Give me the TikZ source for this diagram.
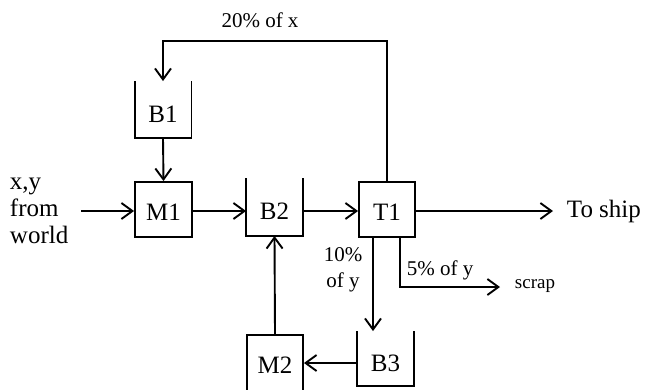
\documentclass[tikz,border=0pt]{standalone}
\usepackage{fontspec}
\setmainfont{Liberation Serif}
\usetikzlibrary{arrows.meta}
\begin{document}
\begin{tikzpicture}[x=1bp,y=-1bp,line width=1.9bp,
  mainfont/.style={font=\fontsize{25bp}{27bp}\selectfont},
  box/.style={draw,mainfont,minimum width=56bp,minimum height=55bp,inner sep=0pt,text height=21bp,text depth=0pt},
  bin/.style={mainfont,minimum width=55bp,minimum height=55bp,inner sep=0pt,text height=25bp,text depth=0pt},
  arr/.style={-{Straight Barb[length=11bp,width=16bp,line width=1.9bp]}},
  lbl/.style={font=\fontsize{21bp}{26bp}\selectfont,inner sep=0pt},
  binline/.style={line width=1.9bp}
]
\useasboundingbox (0,0) rectangle (652,389);
% nodes
\node[bin] (B1) at (163,109.5) {B1};
\node[box,minimum width=57bp] (M1) at (163.5,209.5) {M1};
\node[bin,minimum height=56bp] (B2) at (274.5,207) {B2};
\node[box] (T1) at (387,209.5) {T1};
\node[bin,minimum height=53bp] (B3) at (385.5,358.5) {B3};
\node[box,minimum height=56bp] (M2) at (275,363) {M2};
% open-top bins
\foreach \b in {B1,B2,B3}
  \draw[binline] (\b.north west) |- (\b.south east) -- (\b.north east);
% texts
\node[mainfont,align=left,anchor=west,inner sep=0pt] (src) at (9,211) {x,y\\from\\world};
\node[mainfont,anchor=west,inner sep=0pt] (ship) at (566,211) {To ship};
\node[lbl] (l20) at (260,20) {20\% of x};
\node[lbl,align=center] (l10) at (343,270) {10\%\\of y};
\node[lbl,anchor=west] (l5) at (406,270) {5\% of y};
\node[font=\fontsize{19bp}{22bp}\selectfont,anchor=west,inner sep=0pt] (scrap) at (514,286) {scrap};
% helper coordinates
\coordinate (in) at (81,211);
\coordinate (topline) at (0,41);
\coordinate (shipend) at (553,211);
\coordinate (scrend) at (500,287);
% connectors
\draw[arr] (T1.north) |- (topline -| B1.north) -- (B1.north);
\draw[arr] (B1.south) -- (M1.north);
\draw[arr] (in) -- (in -| M1.west);
\draw[arr] (M1.east |- in) -- (in -| B2.west);
\draw[arr] (B2.east |- in) -- (in -| T1.west);
\draw[arr] (T1.east |- in) -- (shipend);
\draw[arr] ([xshift=-14bp]T1.south) -- ([xshift=-14bp]T1.south |- B3.north);
\draw[arr] ([xshift=13bp]T1.south) |- (scrend);
\draw[arr] (B3.west |- M2.center) -- (M2.east);
\draw[arr] (M2.north) -- (B2.south);
\end{tikzpicture}
\end{document}
